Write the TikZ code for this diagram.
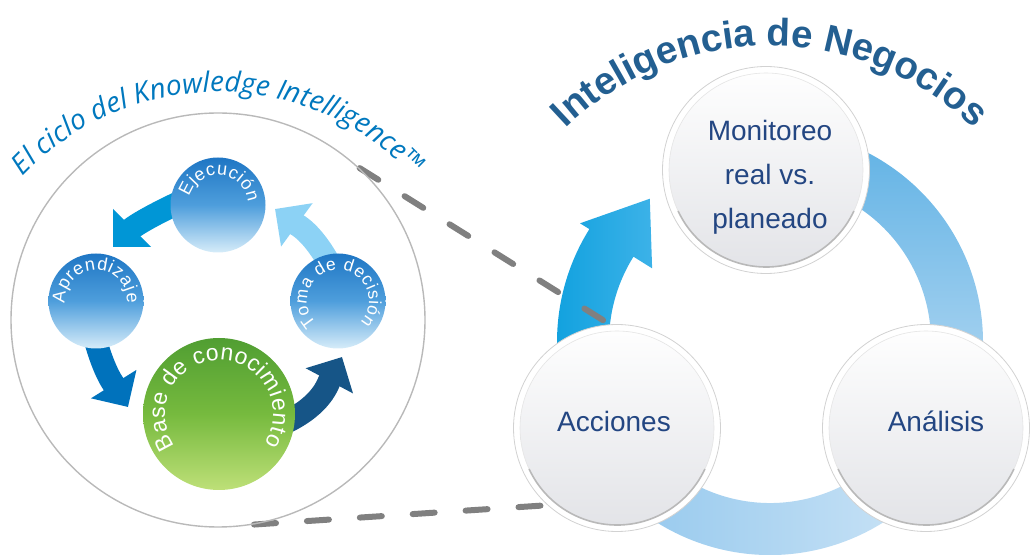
\documentclass[tikz,border=0pt]{standalone}
\usepackage{fontspec}
\setmainfont{Liberation Sans}
\newfontfamily\kifont{Open Sans}
\usetikzlibrary{arrows.meta,decorations.text,backgrounds}

\definecolor{kiblue}{RGB}{0,120,190}
\definecolor{bizblue}{RGB}{35,95,145}
\definecolor{lblblue}{RGB}{35,70,130}
\definecolor{ejecarrow}{RGB}{0,150,214}
\definecolor{aprarrow}{RGB}{0,114,188}
\definecolor{basearrow}{RGB}{22,85,135}
\definecolor{tomaarrow}{RGB}{140,210,245}
\definecolor{sphtop}{RGB}{30,118,196}
\definecolor{sphmid}{RGB}{78,158,220}
\definecolor{sphbot}{RGB}{214,236,249}
\definecolor{grtop}{RGB}{80,158,50}
\definecolor{grmid}{RGB}{118,186,62}
\definecolor{grbot}{RGB}{190,224,120}
\definecolor{bizgray}{RGB}{226,227,231}
\definecolor{ringcyan}{RGB}{14,160,222}
\definecolor{ringcyanlt}{RGB}{60,178,232}
\definecolor{ringtop}{RGB}{92,176,228}
\definecolor{ringright}{RGB}{186,219,243}
\definecolor{ringbotl}{RGB}{140,196,236}
\definecolor{ringbotr}{RGB}{210,231,247}

\tikzset{
  lens/.style={circle, draw=gray!55, line width=1.4pt, minimum size=414pt, inner sep=0pt},
  bluesphere/.style={circle, inner sep=0pt, minimum size=95pt,
    top color=sphtop, bottom color=sphbot, middle color=sphmid},
  greensphere/.style={circle, inner sep=0pt, minimum size=152pt,
    top color=grtop, bottom color=grbot, middle color=grmid},
  bizcircle/.style={circle, inner sep=0pt, minimum size=207pt, fill=white,
    draw=gray!35, line width=0.8pt,
    path picture={
      \shade[top color=white, bottom color=bizgray]
        (path picture bounding box.center) circle (97pt);
      \draw[gray!20, line width=0.6pt] (path picture bounding box.center) circle (97pt);
      \draw[gray!55, line width=1.6pt]
        ([shift={(205:97pt)}]path picture bounding box.center)
        arc[start angle=205, end angle=335, radius=97pt];
    }},
  bizlabel/.style={text=lblblue, font=\fontsize{28}{44}\selectfont, align=center},
  cycarrow/.style={line width=23pt, shorten <=-12pt, -{Triangle[width=52pt,length=27pt]}},
  lensdash/.style={draw=gray, line width=6pt, line cap=round, dash pattern=on 22pt off 31pt},
  arclabel/.style={decorate, decoration={text along path, text align=fit to path,
    text color=white, text={#1}}},
}

\begin{document}
\begin{tikzpicture}[x=1pt,y=1pt]
  \useasboundingbox (0,0) rectangle (1033,554);
  \coordinate (kiarc) at (218,194);
  \coordinate (ringc) at (770,212);
  \coordinate (biarc) at (770,214);

  % left: knowledge intelligence cycle
  \node[lens] (lens) at (218,234) {};
  \path[decorate, decoration={text along path, text align=center, text color=kiblue,
      text={|\kifont\itshape\fontsize{28}{28}\selectfont|El ciclo del Knowledge Intelligence™}}]
    ([shift={(165:268)}]kiarc) arc[start angle=165, end angle=15, radius=268];

  \node[bluesphere] (ejec) at (218,349) {};
  \node[bluesphere] (apr) at (96,253) {};
  \node[bluesphere] (toma) at (338,253) {};
  \node[greensphere] (base) at (219,140) {};

  \path[arclabel={|\fontsize{18}{18}\selectfont|Ejecución}]
    ([shift={(164:30)}]ejec.center) arc[start angle=164, end angle=6, radius=30];
  \path[arclabel={|\fontsize{18}{18}\selectfont|Aprendizaje}]
    ([shift={(184:31)}]apr.center) arc[start angle=184, end angle=-4, radius=31];
  \path[arclabel={|\fontsize{17.5}{17.5}\selectfont|Toma de decisión}]
    ([shift={(226:31)}]toma.center) arc[start angle=226, end angle=-44, radius=31];
  \path[arclabel={|\fontsize{23}{23}\selectfont|Base de conocimiento}]
    ([shift={(216:54)}]base.center) arc[start angle=216, end angle=-33, radius=54];

  % right: business intelligence cycle
  \path[decorate, decoration={text along path, text align=center, text color=bizblue,
      text={|\bfseries\fontsize{38.5}{38.5}\selectfont|Inteligencia de Negocios}}]
    ([shift={(165:294)}]biarc) arc[start angle=165, end angle=15, radius=294];

  \node[bizcircle] (mon) at (766,384) {};
  \node[bizcircle] (acc) at (617,126) {};
  \node[bizcircle] (anal) at (926,126) {};
  \node[bizlabel] (monlbl) at ([shift={(4,-7)}]mon.center) {Monitoreo\\real vs.\\planeado};
  \node[bizlabel, anchor=base] (acclbl) at ([shift={(-3,-4)}]acc.center) {Acciones};
  \node[bizlabel, anchor=base] (anallbl) at ([shift={(10,-4)}]anal.center) {Análisis};

  \begin{pgfonlayer}{background}
    % ring segments
    \shade[top color=ringtop, bottom color=ringright]
      ([shift={(95:213)}]ringc) arc[start angle=95, end angle=-25, radius=213]
      -- ([shift={(-25:161)}]ringc) arc[start angle=-25, end angle=95, radius=161] -- cycle;
    \shade[left color=ringbotl, right color=ringbotr]
      ([shift={(-20:213)}]ringc) arc[start angle=-20, end angle=-160, radius=213]
      -- ([shift={(-160:161)}]ringc) arc[start angle=-160, end angle=-20, radius=161] -- cycle;
    \shade[left color=ringcyan, right color=ringcyanlt]
      ([shift={(209:161)}]ringc) arc[start angle=209, end angle=148, radius=161]
      -- ([shift={(148:139)}]ringc) -- ([shift={(130:187)}]ringc)
      -- ([shift={(148:224)}]ringc) -- ([shift={(148:213)}]ringc)
      arc[start angle=148, end angle=209, radius=213] -- cycle;

    % zoom lines
    \draw[lensdash] (lens.47) -- (acc.94);
    \draw[lensdash] (lens.280) -- (acc.228);

    % small cycle arrows
    \coordinate (ejectip) at (113,307);
    \coordinate (aprtip) at (128,147);
    \coordinate (basetip) at (342,197);
    \coordinate (tomatip) at (275,345);
    \draw[cycarrow, ejecarrow] (ejec.182) to[out=205, in=45] (ejectip);
    \draw[cycarrow, aprarrow] (apr.272) to[out=285, in=122] (aprtip);
    \draw[cycarrow, basearrow] (base.357) to[out=25, in=242] (basetip);
    \draw[cycarrow, tomaarrow] (toma.106) to[out=118, in=-36] (tomatip);
  \end{pgfonlayer}
\end{tikzpicture}
\end{document}
